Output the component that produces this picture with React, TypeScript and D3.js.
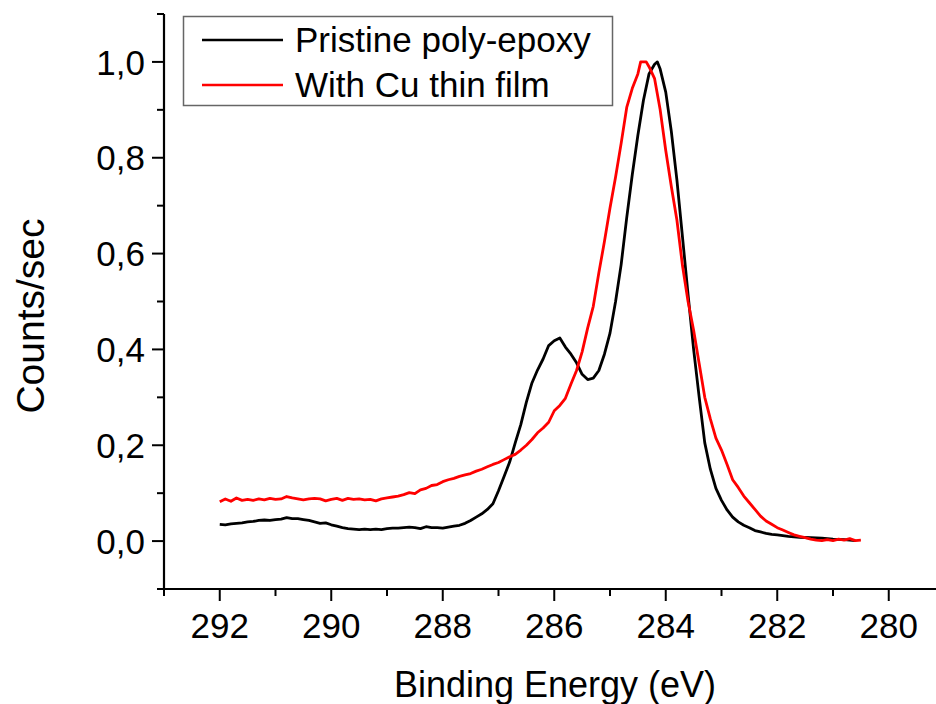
import React from "react";
import * as d3 from "d3";

// ---------- data ----------
const seriesNames = ["Pristine poly-epoxy", "With Cu thin film"];
const seriesColors = ["#000000", "#ff0000"];

// [Binding energy (eV), normalized counts/sec]
const pristine: [number, number][] = [
  [292.0, 0.035], [291.9, 0.034], [291.8, 0.036], [291.7, 0.037], [291.6, 0.038],
  [291.5, 0.040], [291.4, 0.041], [291.3, 0.043], [291.2, 0.044], [291.1, 0.043],
  [291.0, 0.045], [290.9, 0.046], [290.8, 0.049], [290.7, 0.047], [290.6, 0.047],
  [290.5, 0.045], [290.4, 0.043], [290.3, 0.040], [290.2, 0.037], [290.1, 0.038],
  [290.0, 0.034], [289.9, 0.031], [289.8, 0.028], [289.7, 0.026], [289.6, 0.025],
  [289.5, 0.024], [289.4, 0.025], [289.3, 0.024], [289.2, 0.025], [289.1, 0.024],
  [289.0, 0.026], [288.9, 0.027], [288.8, 0.027], [288.7, 0.028], [288.6, 0.029],
  [288.5, 0.028], [288.4, 0.026], [288.3, 0.030], [288.2, 0.028], [288.1, 0.028],
  [288.0, 0.027], [287.9, 0.029], [287.8, 0.031], [287.7, 0.033], [287.6, 0.037],
  [287.5, 0.043], [287.4, 0.050], [287.3, 0.057], [287.2, 0.066], [287.1, 0.078],
  [287.0, 0.105], [286.9, 0.135], [286.8, 0.165], [286.7, 0.205], [286.6, 0.243],
  [286.5, 0.290], [286.4, 0.330], [286.3, 0.357], [286.2, 0.380], [286.1, 0.408],
  [286.0, 0.418], [285.9, 0.424], [285.8, 0.405], [285.7, 0.390], [285.6, 0.372],
  [285.5, 0.348], [285.4, 0.337], [285.3, 0.340], [285.2, 0.356], [285.1, 0.390],
  [285.0, 0.434], [284.9, 0.500], [284.8, 0.577], [284.7, 0.675], [284.6, 0.765],
  [284.5, 0.847], [284.4, 0.920], [284.3, 0.975], [284.2, 0.995], [284.15, 1.000],
  [284.1, 0.985], [284.0, 0.937], [283.9, 0.855], [283.8, 0.754], [283.7, 0.635],
  [283.6, 0.515], [283.5, 0.400], [283.4, 0.300], [283.3, 0.205], [283.2, 0.150],
  [283.1, 0.110], [283.0, 0.085], [282.9, 0.065], [282.8, 0.050], [282.7, 0.040],
  [282.6, 0.033], [282.5, 0.028], [282.4, 0.022], [282.3, 0.019], [282.2, 0.016],
  [282.1, 0.014], [282.0, 0.013], [281.8, 0.010], [281.6, 0.008], [281.4, 0.007],
  [281.2, 0.006], [281.0, 0.004], [280.8, 0.003], [280.6, 0.001],
];

const withCu: [number, number][] = [
  [292.0, 0.082], [291.9, 0.088], [291.8, 0.083], [291.7, 0.090], [291.6, 0.085],
  [291.5, 0.087], [291.4, 0.085], [291.3, 0.088], [291.2, 0.086], [291.1, 0.089],
  [291.0, 0.087], [290.9, 0.088], [290.8, 0.093], [290.7, 0.090], [290.6, 0.088],
  [290.5, 0.086], [290.4, 0.088], [290.3, 0.089], [290.2, 0.088], [290.1, 0.084],
  [290.0, 0.087], [289.9, 0.089], [289.8, 0.085], [289.7, 0.089], [289.6, 0.087],
  [289.5, 0.088], [289.4, 0.086], [289.3, 0.087], [289.2, 0.084], [289.1, 0.088],
  [289.0, 0.090], [288.9, 0.092], [288.8, 0.094], [288.7, 0.097], [288.6, 0.101],
  [288.5, 0.099], [288.4, 0.107], [288.3, 0.110], [288.2, 0.116], [288.1, 0.118],
  [288.0, 0.124], [287.9, 0.128], [287.8, 0.131], [287.7, 0.135], [287.6, 0.138],
  [287.5, 0.141], [287.4, 0.146], [287.3, 0.150], [287.2, 0.155], [287.1, 0.160],
  [287.0, 0.164], [286.9, 0.170], [286.8, 0.176], [286.7, 0.181], [286.6, 0.190],
  [286.5, 0.200], [286.4, 0.212], [286.3, 0.226], [286.2, 0.236], [286.1, 0.248],
  [286.0, 0.272], [285.9, 0.283], [285.8, 0.298], [285.7, 0.328], [285.6, 0.356],
  [285.5, 0.395], [285.4, 0.445], [285.3, 0.490], [285.2, 0.560], [285.1, 0.625],
  [285.0, 0.695], [284.9, 0.760], [284.8, 0.830], [284.7, 0.905], [284.6, 0.945],
  [284.5, 0.975], [284.45, 1.000], [284.35, 1.000], [284.3, 0.990], [284.2, 0.965],
  [284.1, 0.900], [284.0, 0.815], [283.9, 0.740], [283.8, 0.670], [283.7, 0.575],
  [283.6, 0.500], [283.5, 0.440], [283.4, 0.370], [283.3, 0.300], [283.2, 0.255],
  [283.1, 0.215], [283.0, 0.190], [282.9, 0.160], [282.8, 0.128], [282.7, 0.112],
  [282.6, 0.094], [282.5, 0.080], [282.4, 0.066], [282.3, 0.052], [282.2, 0.042],
  [282.1, 0.035], [282.0, 0.028], [281.9, 0.023], [281.8, 0.018], [281.7, 0.013],
  [281.6, 0.010], [281.5, 0.007], [281.4, 0.004], [281.3, 0.002], [281.2, 0.001],
  [281.1, 0.003], [281.0, 0.001], [280.9, 0.004], [280.8, 0.002], [280.7, 0.005],
  [280.6, 0.001], [280.5, 0.002],
];

const xMajorTicks = [292, 290, 288, 286, 284, 282, 280];
const xMinorTicks = [293, 291, 289, 287, 285, 283, 281, 279];
const yMajorTicks = [0, 0.2, 0.4, 0.6, 0.8, 1.0];
const yMinorTicks = [-0.1, 0.1, 0.3, 0.5, 0.7, 0.9, 1.1];
const yTickLabels = ["0,0", "0,2", "0,4", "0,6", "0,8", "1,0"];
const xAxisTitle = "Binding Energy (eV)";
const yAxisTitle = "Counts/sec";

// ---------- layout ----------
const W = 936;
const H = 704;
const FONT = "'Liberation Sans', Arial, sans-serif";

export default function App() {
  const x = d3.scaleLinear().domain([293, 279]).range([164, 944.5]);
  const y = d3.scaleLinear().domain([-0.1, 1.1]).range([589, 14]);
  const line = d3
    .line<[number, number]>()
    .x((d) => x(d[0]))
    .y((d) => y(d[1]));

  const x0 = x(293);
  const y0 = y(-0.1);
  const series = [pristine, withCu];

  return (
    <svg
      width={W}
      height={H}
      style={{ position: "absolute", left: 0, top: 0, background: "#fff" }}
      fontFamily={FONT}
    >
      <rect x={0} y={0} width={W} height={H} fill="#fff" />

      {/* curves */}
      {series.map((s, i) => (
        <path
          key={i}
          d={line(s) || ""}
          fill="none"
          stroke={seriesColors[i]}
          strokeWidth={2.8}
          strokeLinejoin="round"
        />
      ))}

      {/* y axis */}
      <line x1={x0} x2={x0} y1={y(1.1)} y2={y0} stroke="#000" strokeWidth={2.2} />
      {yMajorTicks.map((t, i) => (
        <g key={"ym" + i}>
          <line x1={x0 - 12} x2={x0} y1={y(t)} y2={y(t)} stroke="#000" strokeWidth={2} />
          <text
            x={x0 - 19}
            y={y(t)}
            dy="0.36em"
            textAnchor="end"
            fontSize={35}
            fill="#000"
          >
            {yTickLabels[i]}
          </text>
        </g>
      ))}
      {yMinorTicks.map((t, i) => (
        <line key={"yn" + i} x1={x0 - 7} x2={x0} y1={y(t)} y2={y(t)} stroke="#000" strokeWidth={2} />
      ))}

      {/* x axis */}
      <line x1={x0} x2={W} y1={y0} y2={y0} stroke="#000" strokeWidth={2.2} />
      {xMajorTicks.map((t, i) => (
        <g key={"xm" + i}>
          <line x1={x(t)} x2={x(t)} y1={y0} y2={y0 + 12} stroke="#000" strokeWidth={2} />
          <text x={x(t)} y={638} textAnchor="middle" fontSize={35} fill="#000">
            {String(t)}
          </text>
        </g>
      ))}
      {xMinorTicks.map((t, i) => (
        <line key={"xn" + i} x1={x(t)} x2={x(t)} y1={y0} y2={y0 + 7} stroke="#000" strokeWidth={2} />
      ))}

      {/* axis titles */}
      <text x={555} y={697} textAnchor="middle" fontSize={36} fill="#000">
        {xAxisTitle}
      </text>
      <text
        transform={`translate(44, 316) rotate(-90)`}
        textAnchor="middle"
        fontSize={39}
        fill="#000"
      >
        {yAxisTitle}
      </text>

      {/* legend */}
      <rect x={183.5} y={16.5} width={429} height={89} fill="#fff" stroke="#666" strokeWidth={1.5} />
      {seriesNames.map((n, i) => (
        <g key={"lg" + i}>
          <line
            x1={202}
            x2={283}
            y1={40 + i * 45}
            y2={40 + i * 45}
            stroke={seriesColors[i]}
            strokeWidth={2.6}
          />
          <text x={295} y={52 + i * 45} fontSize={35} fill="#000">
            {n}
          </text>
        </g>
      ))}
    </svg>
  );
}
